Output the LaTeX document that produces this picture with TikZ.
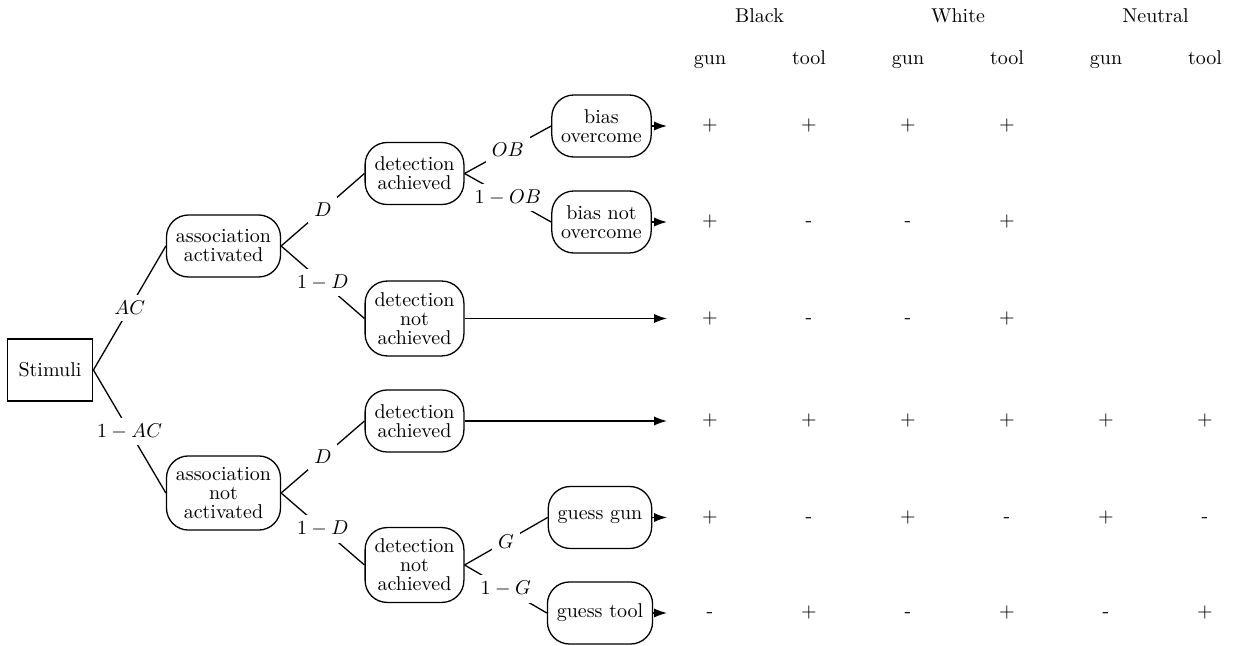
\documentclass[tikz,border=0pt]{standalone}
\usetikzlibrary{arrows.meta}
\begin{document}
\begin{tikzpicture}[x=0.5pt,y=-0.5pt,
  every node/.style={font=\fontsize{10}{9.5}\selectfont},
  state/.style={draw, line width=0.65pt, rounded corners=11pt, align=center,
                inner xsep=4.7pt, inner ysep=2mm, minimum height=31pt},
  root/.style={draw, line width=0.65pt, inner sep=2mm, minimum height=31pt},
  branch/.style={line width=0.65pt},
  prob/.style={fill=white, inner sep=3pt},
  outcome/.style={line width=0.65pt, -{Latex[length=6.5pt,width=4.6pt]}},
  cell/.style={anchor=base, inner sep=0pt}
]
\useasboundingbox (0,0) rectangle (1233,646);

% tree nodes
\node[root]  (stim) at (50,370)      {Stimuli};
\node[state] (aa)   at (223.5,246)   {association\\activated};
\node[state] (an)   at (223.5,493)   {association\\not\\activated};
\node[state] (da1)  at (414.5,173.5) {detection\\achieved};
\node[state] (dn1)  at (414.5,318.5) {detection\\not\\achieved};
\node[state] (da2)  at (414.5,421)   {detection\\achieved};
\node[state] (dn2)  at (414.5,565)   {detection\\not\\achieved};
\node[state] (bo)   at (601.5,126)   {bias\\overcome};
\node[state] (bn)   at (601.5,222)   {bias not\\overcome};
\node[state] (gg)   at (600,517.5)  {guess gun};
\node[state] (gt)   at (600,613)    {guess tool};

% branches with probabilities
\draw[branch] (stim.east) -- node[prob] {$AC$}   (aa.west);
\draw[branch] (stim.east) -- node[prob] {$1-AC$} (an.west);
\draw[branch] (aa.east)   -- node[prob] {$D$}    (da1.west);
\draw[branch] (aa.east)   -- node[prob] {$1-D$}  (dn1.west);
\draw[branch] (an.east)   -- node[prob] {$D$}    (da2.west);
\draw[branch] (an.east)   -- node[prob] {$1-D$}  (dn2.west);
\draw[branch] (da1.east)  -- node[prob] {$OB$}   (bo.west);
\draw[branch] (da1.east)  -- node[prob] {$1-OB$} (bn.west);
\draw[branch] (dn2.east)  -- node[prob] {$G$}    (gg.west);
\draw[branch] (dn2.east)  -- node[prob] {$1-G$}  (gt.west);

% outcome arrows
\coordinate (o1) at (667,126);
\coordinate (o2) at (667,222);
\coordinate (o3) at (667,318.5);
\coordinate (o4) at (667,421);
\coordinate (o5) at (667,517.5);
\coordinate (o6) at (667,613);
\draw[outcome] (bo.east)  -- (o1);
\draw[outcome] (bn.east)  -- (o2);
\draw[outcome] (dn1.east) -- (o3);
\draw[outcome] (da2.east) -- (o4);
\draw[outcome] (gg.east)  -- (o5);
\draw[outcome] (gt.east)  -- (o6);

% table headers
\node[cell] (hB) at (759.5,23)  {Black};
\node[cell] (hW) at (958,23)    {White};
\node[cell] (hN) at (1155.5,23) {Neutral};
\foreach \x/\t [count=\k] in {710/gun,809/tool,908/gun,1007/tool,1106/gun,1205/tool}
  \node[cell] (col\k) at (\x,65) {\t};

% response table
\foreach \y/\vals [count=\r] in {
    131/{+,+,+,+,{},{}},
    227/{+,-,-,+,{},{}},
    323.5/{+,-,-,+,{},{}},
    426/{+,+,+,+,+,+},
    522.5/{+,-,+,-,+,-},
    618/{-,+,-,+,-,+}}
  \foreach \v [count=\c] in \vals
    \node[cell] (cell\r-\c) at ({611+99*\c},\y) {\v};
\end{tikzpicture}
\end{document}
